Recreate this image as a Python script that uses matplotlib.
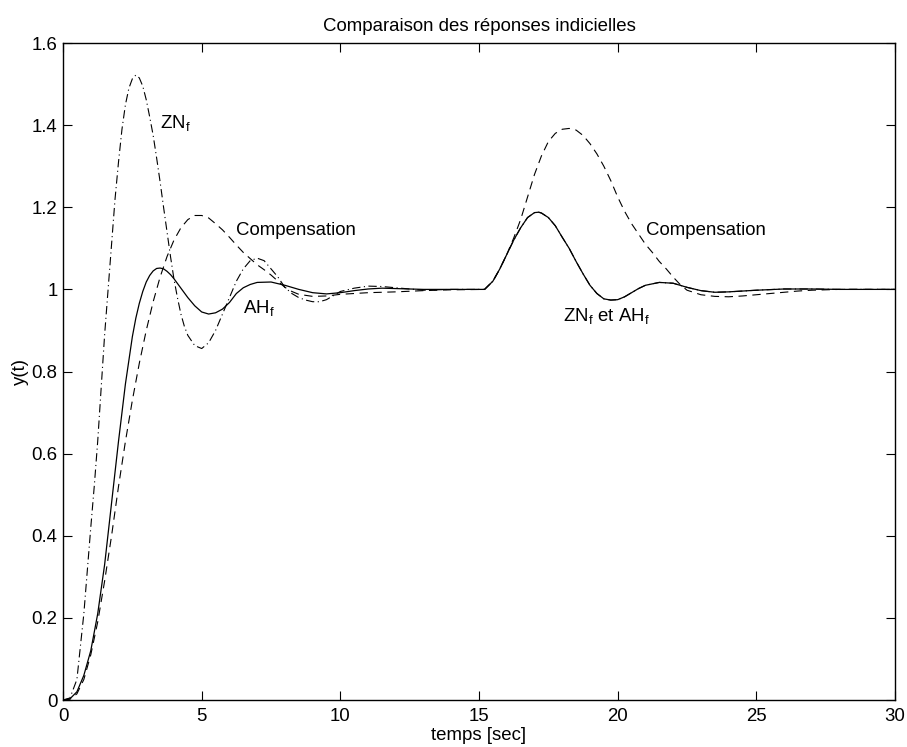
import matplotlib
matplotlib.use('Agg')
import matplotlib.pyplot as plt

plt.rcParams['font.family'] = ['Liberation Sans', 'DejaVu Sans']
plt.rcParams['mathtext.default'] = 'regular'
plt.rcParams['lines.scale_dashes'] = False

# Réponse AH_f (trait plein)
t_ah = [0, 0.25, 0.5, 0.75, 1.0, 1.25, 1.5, 1.75, 2.0, 2.25, 2.5, 2.625, 2.75, 2.875, 3.0, 3.125,
        3.25, 3.375, 3.5, 3.625, 3.75, 3.875, 4.0, 4.25, 4.5, 4.75, 5.0, 5.25, 5.5, 5.75, 6.0,
        6.25, 6.5, 6.75, 7.0, 7.5, 8.0, 8.5, 9.0, 9.5, 10.0, 10.5, 11.0, 11.5, 12.0, 13.0, 15.2,
        15.5, 15.75, 16.0, 16.25, 16.5, 16.75, 17.0, 17.15, 17.25, 17.5, 17.75, 18.0, 18.25,
        18.5, 18.75, 19.0, 19.25, 19.5, 19.75, 20.0, 20.25, 20.5, 20.75, 21.0, 21.5, 22.0,
        22.5, 23.0, 23.5, 24.0, 25.0, 26.0, 27.0, 28.0, 30.0]
y_ah = [0, 0.003, 0.02, 0.06, 0.12, 0.21, 0.33, 0.48, 0.63, 0.77, 0.885, 0.93, 0.966, 0.995, 1.018, 1.034,
        1.045, 1.051, 1.052, 1.05, 1.044, 1.036, 1.026, 1.003, 0.98, 0.96, 0.945, 0.94, 0.943, 0.952, 0.968,
        0.99, 1.004, 1.012, 1.017, 1.018, 1.01, 1.0, 0.992, 0.989, 0.992, 0.997, 1.001, 1.003, 1.002, 1.0, 1.0,
        1.02, 1.05, 1.085, 1.12, 1.15, 1.175, 1.187, 1.188, 1.186, 1.175, 1.155, 1.127, 1.1,
        1.068, 1.038, 1.01, 0.99, 0.977, 0.974, 0.975, 0.982, 0.992, 1.002, 1.01, 1.017, 1.015,
        1.005, 0.997, 0.993, 0.994, 0.998, 1.001, 1.001, 1.0, 1.0]
n_pert = t_ah.index(15.2) + 1

# Réponse ZN_f (trait mixte) ; confondue avec AH_f après la perturbation
t_zn = [0, 0.25, 0.5, 0.75, 1.0, 1.125, 1.25, 1.375, 1.5, 1.625, 1.75, 1.875, 2.0, 2.125, 2.25,
        2.375, 2.5, 2.625, 2.75, 2.875, 3.0, 3.125, 3.25, 3.375, 3.5, 3.625, 3.75, 3.875, 4.0,
        4.125, 4.25, 4.375, 4.5, 4.75, 5.0, 5.25, 5.5, 5.75, 6.0, 6.25, 6.5, 6.75, 7.0, 7.25, 7.5,
        7.75, 8.0, 8.25, 8.5, 8.75, 9.0, 9.25, 9.5, 9.75, 10.0, 10.5, 11.0, 11.5, 12.0, 12.5,
        13.0, 13.5, 14.0, 15.2] + t_ah[n_pert:]
y_zn = [0, 0.005, 0.05, 0.21, 0.42, 0.52, 0.63, 0.76, 0.89, 1.0, 1.11, 1.22, 1.31, 1.39, 1.45,
        1.49, 1.513, 1.522, 1.515, 1.495, 1.462, 1.42, 1.375, 1.32, 1.262, 1.2, 1.14, 1.08, 1.025,
        0.98, 0.94, 0.91, 0.888, 0.863, 0.856, 0.87, 0.9, 0.94, 0.98, 1.02, 1.05, 1.07, 1.076, 1.07, 1.05,
        1.03, 1.005, 0.99, 0.98, 0.974, 0.97, 0.97, 0.975, 0.985, 0.995, 1.003, 1.008, 1.007, 1.004, 1.001,
        0.998, 0.999, 1.0, 1.0] + y_ah[n_pert:]

# Réponse avec compensation (tirets)
t_comp = [0, 0.25, 0.5, 0.75, 1.0, 1.25, 1.5, 1.75, 2.0, 2.25, 2.5, 2.75, 3.0, 3.25, 3.5, 3.75,
          4.0, 4.25, 4.5, 4.75, 5.0, 5.25, 5.5, 5.75, 6.0, 6.25, 6.5, 6.75, 7.0, 7.25, 7.5, 7.75,
          8.0, 8.25, 8.5, 9.0, 9.5, 10.0, 11.0, 12.0, 13.0, 14.0, 15.2,
          15.5, 15.75, 16.0, 16.25, 16.5, 16.75, 17.0, 17.25, 17.5, 17.75, 18.0, 18.25, 18.5,
          18.75, 19.0, 19.25, 19.5, 19.75, 20.0, 20.25, 20.5, 20.75, 21.0, 21.25, 21.5, 21.75,
          22.0, 22.25, 22.5, 23.0, 23.5, 24.0, 24.5, 25.0, 25.5, 26.0, 26.5, 27.0, 28.0, 30.0]
y_comp = [0, 0.002, 0.015, 0.05, 0.11, 0.19, 0.29, 0.40, 0.52, 0.63, 0.73, 0.82, 0.90, 0.97, 1.03, 1.08,
          1.12, 1.15, 1.17, 1.18, 1.18, 1.174, 1.16, 1.145, 1.127, 1.108, 1.09, 1.075, 1.06, 1.048, 1.035, 1.02,
          1.005, 0.995, 0.988, 0.983, 0.984, 0.988, 0.992, 0.994, 0.997, 0.999, 1.0,
          1.02, 1.05, 1.085, 1.125, 1.17, 1.225, 1.28, 1.325, 1.36, 1.38, 1.39, 1.392, 1.388,
          1.375, 1.355, 1.33, 1.3, 1.265, 1.225, 1.19, 1.16, 1.135, 1.11, 1.09, 1.068, 1.05,
          1.03, 1.012, 0.998, 0.987, 0.983, 0.982, 0.984, 0.987, 0.99, 0.993, 0.996, 0.998, 1.0, 1.0]

fig = plt.figure(figsize=(9.07, 7.47), dpi=100)
ax = fig.add_axes([0.0695, 0.0629, 0.9173, 0.8795])

ax.plot(t_zn, y_zn, color='black', lw=0.8, dashes=(6.0, 2.5, 0.8, 2.5))
ax.plot(t_comp, y_comp, color='black', lw=0.8, dashes=(6.0, 4.0))
ax.plot(t_ah, y_ah, color='black', lw=0.9)

ax.set_xlim(0, 30)
ax.set_ylim(0, 1.6)
ax.set_xticks([0, 5, 10, 15, 20, 25, 30])
ax.set_yticks([0, 0.2, 0.4, 0.6, 0.8, 1.0, 1.2, 1.4, 1.6])
ax.set_yticklabels(['0', '0.2', '0.4', '0.6', '0.8', '1', '1.2', '1.4', '1.6'])
ax.tick_params(direction='in', length=6.5, width=0.8, top=True, right=True, labelsize=13.4)
ax.tick_params(axis='x', pad=6)
ax.tick_params(axis='y', pad=4)
for s in ax.spines.values():
    s.set_linewidth(1.0)

fs = 13.4
ax.text(3.5, 1.393, 'ZN$_f$', fontsize=fs)
ax.text(6.24, 1.1325, 'Compensation', fontsize=fs)
ax.text(6.5, 0.942, 'AH$_f$', fontsize=fs)
ax.text(21.02, 1.1325, 'Compensation', fontsize=fs)
ax.text(18.02, 0.923, 'ZN$_f$ et AH$_f$', fontsize=fs)

ax.set_title('Comparaison des réponses indicielles', fontsize=fs, pad=9)
ax.set_xlabel('temps [sec]', fontsize=fs, labelpad=1)
ax.set_ylabel('y(t)', fontsize=fs, labelpad=2)

fig.savefig('out.png', dpi=100)
